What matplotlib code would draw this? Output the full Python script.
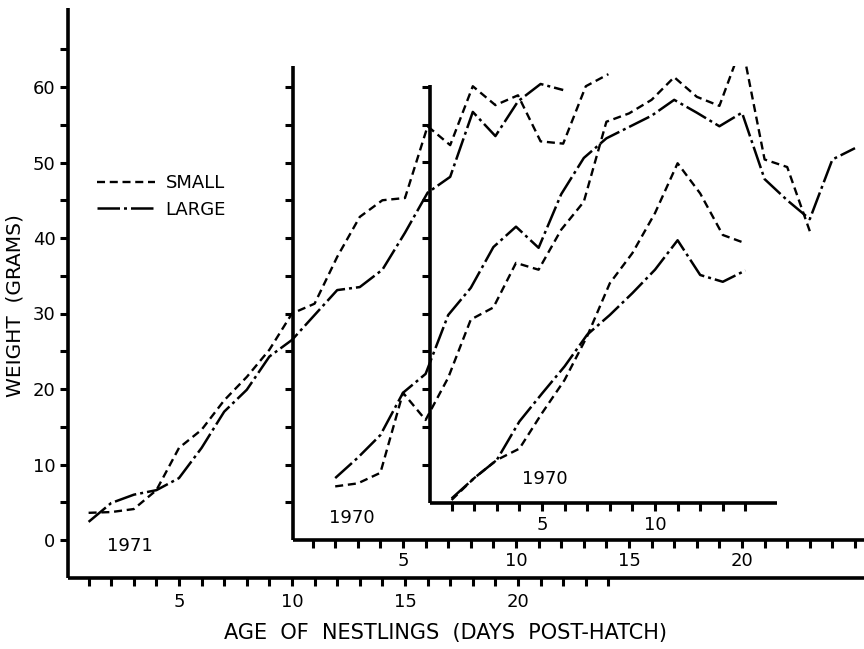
import matplotlib
matplotlib.use("Agg")
import matplotlib.pyplot as plt

# ---------------- data (weight in grams) ----------------
days_1971_small = list(range(1, 25))
small_1971 = [3.6, 3.7, 4.1, 6.6, 12.2, 14.6, 18.5, 21.6, 25.2, 30.0, 31.3, 37.5,
              42.8, 45.0, 45.3, 54.8, 52.3, 60.1, 57.6, 58.9, 52.8, 52.5, 60.1, 61.7]
days_1971_large = list(range(1, 23))
large_1971 = [2.4, 4.9, 6.0, 6.6, 8.2, 12.2, 17.0, 19.9, 24.3, 26.5, 29.8, 33.1,
              33.5, 35.8, 40.7, 46.0, 48.1, 56.7, 53.5, 58.1, 60.4, 59.6]

days_1970a_small = list(range(2, 24))
small_1970a = [7.1, 7.5, 8.9, 19.5, 15.9, 21.5, 29.2, 30.8, 36.7, 35.8, 41.1,
               44.8, 55.4, 56.5, 58.3, 61.3, 58.7, 57.5, 65.6, 50.4, 49.4, 40.9]
days_1970a_large = list(range(2, 26))
large_1970a = [8.2, 10.9, 13.9, 19.5, 22.0, 29.8, 33.4, 38.8, 41.5, 38.7, 45.8,
               50.6, 53.2, 54.7, 56.2, 58.3, 56.6, 54.8, 56.6, 47.8, 45.0, 42.5,
               50.4, 51.9]

days_1970b = list(range(1, 15))
small_1970b = [5.3, 8.2, 10.6, 12.1, 16.8, 21.2, 27.0, 34.0, 38.0, 43.3, 49.9,
               45.9, 40.4, 39.3]
large_1970b = [5.5, 8.2, 10.6, 15.7, 19.4, 23.0, 27.2, 29.8, 32.7, 35.8, 39.7,
               35.1, 34.2, 35.7]

series_labels = ["SMALL", "LARGE"]
year_labels = ["1971", "1970", "1970"]
ylabel = "WEIGHT  (GRAMS)"
xlabel = "AGE  OF  NESTLINGS  (DAYS  POST-HATCH)"
labelled_days_main = [5, 10, 15, 20]
labelled_days_mid = [5, 10, 15, 20]
labelled_days_inner = [5, 10]

# ---------------- layout ----------------
W, H = 864, 649
SX, SY = 22.6, 7.55          # pixels per day / per gram
Y0 = 540                      # pixel row of 0 g

fig = plt.figure(figsize=(W / 100, H / 100), dpi=100)
fig.patch.set_facecolor("white")

FONT = "DejaVu Sans"
SPINE_LW = 2.6


def panel(left, right, top, bottom, x0):
    ax = fig.add_axes([left / W, 1 - bottom / H, (right - left) / W, (bottom - top) / H])
    ax.set_xlim((left - x0) / SX, (right - x0) / SX)
    ax.set_ylim((Y0 - bottom) / SY, (Y0 - top) / SY)
    ax.patch.set_alpha(0)
    for s in ("top", "right"):
        ax.spines[s].set_visible(False)
    for s in ("left", "bottom"):
        ax.spines[s].set_linewidth(SPINE_LW)
        ax.spines[s].set_capstyle("butt")
    ax.tick_params(direction="out", length=6, width=2.2, labelsize=13, pad=3)
    return ax


small_style = dict(color="black", lw=1.7, dashes=(3.4, 2.0))
large_style = dict(color="black", lw=1.8, dashes=(9, 1.6, 1.2, 1.6))

# main axes (1971)
ax1 = panel(68, 864, 8, 578, 66)
l_small, = ax1.plot(days_1971_small, small_1971, label=series_labels[0], **small_style)
l_large, = ax1.plot(days_1971_large, large_1971, label=series_labels[1], **large_style)
ax1.set_xticks(range(1, 25))
ax1.set_xticklabels([str(d) if d in labelled_days_main else "" for d in range(1, 25)])
ax1.set_yticks(range(0, 70, 5))
ax1.set_yticklabels([str(v) if v % 10 == 0 else "" for v in range(0, 70, 5)])
ax1.tick_params(axis="x", pad=5)

# middle axes (1970)
ax2 = panel(293, 864, 66, 540, 290)
ax2.plot(days_1970a_small, small_1970a, **small_style)
ax2.plot(days_1970a_large, large_1970a, **large_style)
ax2.set_xticks(range(1, 26))
ax2.set_xticklabels([str(d) if d in labelled_days_mid else "" for d in range(1, 26)])
ax2.set_yticks(range(5, 65, 5))
ax2.set_yticklabels([])

# inner axes (1970)
ax3 = panel(430, 777, 85, 503, 429)
ax3.plot(days_1970b, small_1970b, **small_style)
ax3.plot(days_1970b, large_1970b, **large_style)
ax3.set_xticks(range(1, 15))
ax3.set_xticklabels([str(d) if d in labelled_days_inner else "" for d in range(1, 15)])
ax3.set_yticks(range(10, 65, 5))
ax3.set_yticklabels([])

# year labels
for (px, py), txt in zip([(130, 546), (352, 518), (545, 479)], year_labels):
    fig.text(px / W, 1 - py / H, txt, ha="center", va="center", fontsize=13, family=FONT)

# axis titles
fig.text(446 / W, 1 - 633 / H, xlabel, ha="center", va="center", fontsize=15, family=FONT)
fig.text(15 / W, 1 - 306 / H, ylabel, ha="center", va="center", rotation=90,
         fontsize=14.5, family=FONT)

# legend
fig.legend(handles=[l_small, l_large], loc="center left",
           bbox_to_anchor=(97 / W, 1 - 196.5 / H), bbox_transform=fig.transFigure,
           frameon=False, fontsize=13, handlelength=3.2, handletextpad=0.6,
           labelspacing=0.45, borderpad=0, borderaxespad=0)

fig.savefig("out.png", dpi=100)
